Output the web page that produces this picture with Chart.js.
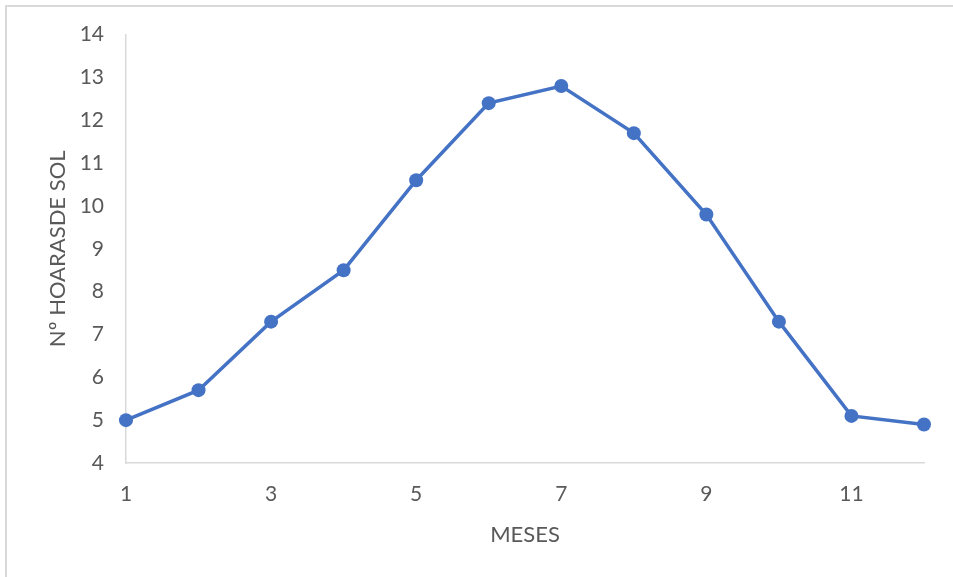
<!DOCTYPE html>
<html>
<head>
<meta charset="utf-8">
<script src="https://cdn.jsdelivr.net/npm/chart.js@4"></script>
<style>
  html, body { margin: 0; padding: 0; background: #ffffff; }
  #wrap { position: relative; width: 953px; height: 577px; overflow: hidden; }
  #frame { position: absolute; left: 5px; top: 5px; width: 960px; height: 600px;
           border: 2px solid #d9d9d9; box-sizing: border-box; }
  canvas { position: absolute; left: 0; top: 0; }
</style>
</head>
<body>
<div id="wrap">
  <div id="frame"></div>
  <canvas id="c" width="953" height="577"></canvas>
</div>
<script>
// Monthly sunshine hours
const months = [1, 2, 3, 4, 5, 6, 7, 8, 9, 10, 11, 12];
const sunHours = [5.0, 5.7, 7.3, 8.5, 10.6, 12.4, 12.8, 11.7, 9.8, 7.3, 5.1, 4.9];
const xTicks = [1, 3, 5, 7, 9, 11];
const yTicks = [4, 5, 6, 7, 8, 9, 10, 11, 12, 13, 14];

const textColor = '#595959';
const axisColor = '#d9d9d9';
const fontFamily = 'Lato, "Open Sans", sans-serif';

new Chart(document.getElementById('c'), {
  type: 'line',
  data: {
    datasets: [{
      data: months.map((m, i) => ({ x: m, y: sunHours[i] })),
      borderColor: '#4472C4',
      backgroundColor: '#4472C4',
      borderWidth: 3.5,
      pointRadius: 7,
      pointBorderWidth: 0,
      pointBackgroundColor: '#4472C4',
      tension: 0,
      clip: false
    }]
  },
  options: {
    responsive: false,
    animation: false,
    layout: { padding: { left: 0, right: 29, top: 34, bottom: 0 } },
    plugins: { legend: { display: false }, tooltip: { enabled: false } },
    scales: {
      x: {
        type: 'linear',
        min: 1,
        max: 12,
        afterBuildTicks: s => { s.ticks = xTicks.map(v => ({ value: v })); },
        afterFit: s => { s.height = 577 - 463; },
        grid: { display: false, drawTicks: false },
        border: { color: axisColor, width: 1.5 },
        ticks: { color: textColor, font: { family: fontFamily, size: 21 }, padding: 19, maxRotation: 0 },
        title: { display: true, text: 'MESES', color: textColor,
                 font: { family: fontFamily, size: 22 }, padding: { top: 0, bottom: 29 } }
      },
      y: {
        min: 4,
        max: 14,
        afterBuildTicks: s => { s.ticks = yTicks.map(v => ({ value: v })); },
        afterFit: s => { s.width = 126; },
        grid: { display: false, drawTicks: false },
        border: { color: axisColor, width: 1.5 },
        ticks: { color: textColor, font: { family: fontFamily, size: 21 }, padding: 22 },
        title: { display: true, text: 'Nº HOARASDE SOL', color: textColor,
                 font: { family: fontFamily, size: 22 }, padding: { top: 45, bottom: 0 } }
      }
    }
  }
});
</script>
</body>
</html>
